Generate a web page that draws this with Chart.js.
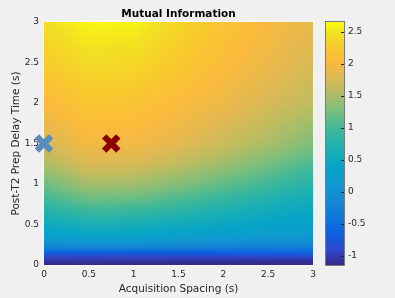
<!DOCTYPE html>
<html>
<head>
<meta charset="utf-8">
<title>Mutual Information</title>
<script src="https://cdn.jsdelivr.net/npm/chart.js@4.4.1/dist/chart.umd.min.js"></script>
<style>
  html, body { margin: 0; padding: 0; background: #f0f0f0; }
  #wrap { width: 395px; height: 298px; }
</style>
</head>
<body>
<div id="wrap"><canvas id="miChart" width="395" height="298"></canvas></div>
<script>
// grid of values
const spacingVals = [0, 0.5, 1, 1.5, 2, 2.5, 3];
const delayVals = [0, 0.05, 0.1, 0.15, 0.2, 0.25, 0.3, 0.4, 0.5, 0.75, 1, 1.25, 1.5, 2, 2.5, 3];
// one row per delay value, one column per spacing value
const miRows = [
    [-1.14, -1.14, -1.14, -1.14, -1.14, -1.14, -1.14],
    [-1.06, -1.05, -1.06, -1.07, -1.07, -1.08, -1.08],
    [-0.92, -0.91, -0.92, -0.91, -0.91, -0.90, -0.90],
    [-0.68, -0.66, -0.68, -0.67, -0.66, -0.64, -0.62],
    [-0.35, -0.33, -0.35, -0.37, -0.38, -0.39, -0.40],
    [-0.10, -0.06, -0.08, -0.10, -0.14, -0.17, -0.20],
    [0.12, 0.18, 0.16, 0.12, 0.08, 0.04, 0.00],
    [0.35, 0.44, 0.42, 0.36, 0.30, 0.24, 0.18],
    [0.52, 0.66, 0.64, 0.55, 0.45, 0.36, 0.30],
    [0.90, 1.10, 1.08, 0.96, 0.82, 0.65, 0.50],
    [1.22, 1.48, 1.46, 1.32, 1.15, 0.98, 0.80],
    [1.52, 1.78, 1.76, 1.62, 1.45, 1.25, 1.05],
    [1.75, 1.98, 1.97, 1.85, 1.68, 1.50, 1.30],
    [2.05, 2.20, 2.18, 2.06, 1.92, 1.76, 1.60],
    [2.28, 2.42, 2.40, 2.25, 2.08, 1.92, 1.76],
    [2.45, 2.62, 2.60, 2.38, 2.18, 2.02, 1.88]
];

// the two marked protocols
const markerX = [0, 0.75];
const markerY = [1.5, 1.5];

const xTicks = [0, 0.5, 1, 1.5, 2, 2.5, 3];
const yTicks = [0, 0.5, 1, 1.5, 2, 2.5, 3];
const cbTicks = [-1, -0.5, 0, 0.5, 1, 1.5, 2, 2.5];
const cbMin = -1.14;
const cbMax = 2.657;

// parula-like colormap stops
const parulaStops = [
    [0.00, '#352a87'], [0.06, '#2f47c8'], [0.12, '#0f5cdd'], [0.18, '#0d72dc'],
    [0.25, '#1485d4'], [0.32, '#1196d1'], [0.40, '#07a4c8'], [0.48, '#1bafb3'],
    [0.56, '#3fb899'], [0.64, '#7fbe7b'], [0.72, '#bcbc60'], [0.78, '#e1b952'],
    [0.84, '#fbba3c'], [0.90, '#f8cb2c'], [0.95, '#f2df23'], [1.00, '#f9fb0e']
].map(([t, hex]) => [t, [1, 3, 5].map(i => parseInt(hex.substr(i, 2), 16))]);

function parula(t) {
    t = Math.min(1, Math.max(0, t));
    let i = 0;
    while (i < parulaStops.length - 2 && t > parulaStops[i + 1][0]) i++;
    const [t0, c0] = parulaStops[i];
    const [t1, c1] = parulaStops[i + 1];
    const f = (t - t0) / (t1 - t0);
    return c0.map((c, k) => Math.round(c + (c1[k] - c) * f));
}

function bracket(arr, v) {
    let i = 0;
    while (i < arr.length - 2 && v > arr[i + 1]) i++;
    const f = Math.min(1, Math.max(0, (v - arr[i]) / (arr[i + 1] - arr[i])));
    return [i, f];
}

function miAt(s, d) {
    const [i, fx] = bracket(spacingVals, s);
    const [j, fy] = bracket(delayVals, d);
    const a = miRows[j][i], b = miRows[j][i + 1];
    const c = miRows[j + 1][i], e = miRows[j + 1][i + 1];
    return (a * (1 - fx) + b * fx) * (1 - fy) + (c * (1 - fx) + e * fx) * fy;
}

const textColor = '#262626';
const tickFont = { family: 'DejaVu Sans', size: 9 };
const labelFont = { family: 'DejaVu Sans', size: 10.5 };

// draws the image under the markers, using the x / y scales
const heatmapPlugin = {
    id: 'heatmap',
    beforeDatasetsDraw(chart) {
        const { ctx, chartArea: area, scales: { x, y } } = chart;
        const left = Math.round(area.left), top = Math.round(area.top);
        const w = Math.round(area.right) - left, h = Math.round(area.bottom) - top;
        const img = ctx.createImageData(w, h);
        for (let py = 0; py < h; py++) {
            const d = y.getValueForPixel(top + py + 0.5);
            for (let px = 0; px < w; px++) {
                const s = x.getValueForPixel(left + px + 0.5);
                const c = parula((miAt(s, d) - cbMin) / (cbMax - cbMin));
                const k = (py * w + px) * 4;
                img.data[k] = c[0];
                img.data[k + 1] = c[1];
                img.data[k + 2] = c[2];
                img.data[k + 3] = 255;
            }
        }
        ctx.putImageData(img, left, top);

        ctx.save();
        ctx.strokeStyle = '#f7f7f7';
        ctx.lineWidth = 1;
        ctx.strokeRect(left - 0.5, top - 0.5, w + 1, h + 1);
        ctx.restore();
    }
};

// colorbar drawn against the cb scale, plus the title
const colorbarPlugin = {
    id: 'colorbar',
    afterDraw(chart) {
        const { ctx, chartArea: area } = chart;
        const cb = chart.scales.cb;
        const x0 = Math.round(cb.left) + 13, x1 = x0 + 18;
        const top = Math.round(cb.top), bottom = Math.round(cb.bottom);
        ctx.save();
        for (let py = top; py < bottom; py++) {
            const v = cb.getValueForPixel(py + 0.5);
            const c = parula((v - cbMin) / (cbMax - cbMin));
            ctx.fillStyle = `rgb(${c[0]},${c[1]},${c[2]})`;
            ctx.fillRect(x0, py, x1 - x0, 1);
        }
        ctx.strokeStyle = '#7a7a7a';
        ctx.lineWidth = 1;
        ctx.strokeRect(x0 - 0.5, top - 0.5, x1 - x0 + 1, bottom - top + 1);
        ctx.strokeStyle = textColor;
        cb.ticks.forEach(t => {
            const py = Math.round(cb.getPixelForValue(t.value)) + 0.5;
            ctx.beginPath();
            ctx.moveTo(x1 - 3, py);
            ctx.lineTo(x1, py);
            ctx.stroke();
        });

        ctx.fillStyle = '#000000';
        ctx.font = 'bold 10.5px "DejaVu Sans"';
        ctx.textAlign = 'center';
        ctx.textBaseline = 'middle';
        ctx.fillText('Mutual Information', (area.left + area.right) / 2, 14);
        ctx.restore();
    }
};

const ctx = document.getElementById('miChart').getContext('2d');

new Chart(ctx, {
    type: 'scatter',
    data: {
        datasets: [
            {
                label: 'baseline outline',
                data: [{ x: markerX[0], y: markerY[0] }],
                pointStyle: 'crossRot',
                pointRadius: 10,
                borderWidth: 6.2,
                borderColor: '#5a8cc0'
            },
            {
                label: 'baseline',
                data: [{ x: markerX[0], y: markerY[0] }],
                pointStyle: 'crossRot',
                pointRadius: 9.4,
                borderWidth: 5,
                borderColor: '#70a9de'
            },
            {
                label: 'optimum outline',
                data: [{ x: markerX[1], y: markerY[1] }],
                pointStyle: 'crossRot',
                pointRadius: 10,
                borderWidth: 6.2,
                borderColor: '#8b0000'
            },
            {
                label: 'optimum',
                data: [{ x: markerX[1], y: markerY[1] }],
                pointStyle: 'crossRot',
                pointRadius: 9.4,
                borderWidth: 5,
                borderColor: '#d80000'
            }
        ]
    },
    options: {
        responsive: false,
        animation: false,
        clip: false,
        layout: { padding: { top: 22, left: 0, right: 0, bottom: 0 } },
        plugins: {
            legend: { display: false },
            tooltip: { enabled: false },
            title: { display: false }
        },
        scales: {
            x: {
                type: 'linear',
                min: 0,
                max: 3,
                afterBuildTicks: s => { s.ticks = xTicks.map(v => ({ value: v })); },
                afterFit: s => { s.height = 33; },
                grid: { display: false, drawTicks: false },
                border: { display: false },
                ticks: { color: textColor, font: tickFont, padding: 4, maxRotation: 0, autoSkip: false, callback: v => String(v) },
                title: { display: true, text: 'Acquisition Spacing (s)', color: textColor, font: labelFont, padding: { top: 0, bottom: 2 } }
            },
            y: {
                type: 'linear',
                min: 0,
                max: 3,
                afterBuildTicks: s => { s.ticks = yTicks.map(v => ({ value: v })); },
                afterFit: s => { s.width = 44; s.paddingTop = 6; s.paddingBottom = 6; },
                grid: { display: false, drawTicks: false },
                border: { display: false },
                ticks: { color: textColor, font: tickFont, padding: 5, autoSkip: false, callback: v => String(v) },
                title: { display: true, text: 'Post-T2 Prep Delay Time (s)', color: textColor, font: labelFont, padding: { top: 10, bottom: 0 } }
            },
            cb: {
                type: 'linear',
                position: 'right',
                min: cbMin,
                max: cbMax,
                afterBuildTicks: s => { s.ticks = cbTicks.map(v => ({ value: v })); },
                afterFit: s => { s.width = 82; s.paddingTop = 6; s.paddingBottom = 6; },
                grid: { display: false, drawTicks: false },
                border: { display: false },
                ticks: { color: textColor, font: tickFont, padding: 35, autoSkip: false, callback: v => String(v) }
            }
        }
    },
    plugins: [heatmapPlugin, colorbarPlugin]
});
</script>
</body>
</html>
